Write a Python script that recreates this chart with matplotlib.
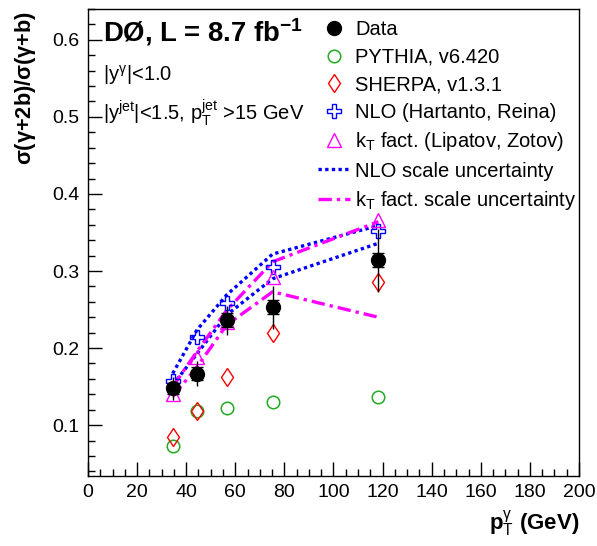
import numpy as np
import matplotlib
matplotlib.use('Agg')
import matplotlib.pyplot as plt
from matplotlib.ticker import MultipleLocator

plt.rcParams['font.family'] = ['Liberation Sans', 'DejaVu Sans']
plt.rcParams['mathtext.fontset'] = 'custom'
plt.rcParams['mathtext.rm'] = 'Liberation Sans'
plt.rcParams['mathtext.it'] = 'Liberation Sans'
plt.rcParams['mathtext.bf'] = 'Liberation Sans:bold'

# photon pT bin centres (GeV)
pt = [34.5, 44.5, 56.5, 75.2, 118.3]

data = [0.148, 0.167, 0.236, 0.253, 0.314]
data_stat = [0.015, 0.016, 0.019, 0.028, 0.041]
data_syst = [0.007, 0.008, 0.009, 0.009, 0.009]

pythia = [0.073, 0.118, 0.122, 0.130, 0.136]
sherpa = [0.085, 0.119, 0.163, 0.220, 0.286]
nlo = [0.157, 0.2145, 0.258, 0.305, 0.352]
kt = [0.141, 0.189, 0.234, 0.292, 0.366]

nlo_up = [0.167, 0.224, 0.269, 0.322, 0.359]
nlo_lo = [0.152, 0.193, 0.243, 0.290, 0.336]
kt_up = [0.150, 0.196, 0.249, 0.312, 0.364]
kt_lo = [0.137, 0.176, 0.230, 0.273, 0.240]

fig = plt.figure(figsize=(5.97, 5.46), dpi=100)
ax = fig.add_axes([0.1474, 0.1282, 0.8224, 0.8553])

h_nlos, = ax.plot(pt, nlo_up, color='blue', ls=(0, (1, 1)), lw=2.4, label='NLO scale uncertainty')
ax.plot(pt, nlo_lo, color='blue', ls=(0, (1, 1)), lw=2.4)
h_kts, = ax.plot(pt, kt_up, color='magenta', ls=(0, (4, 1.5, 1, 1.5)), lw=2.4, label=r'k$_{\rm T}$ fact. scale uncertainty')
ax.plot(pt, kt_lo, color='magenta', ls=(0, (4, 1.5, 1, 1.5)), lw=2.4)

h_py, = ax.plot(pt, pythia, 'o', ms=9, mfc='none', mec='#22aa22', mew=1.1, ls='none', label='PYTHIA, v6.420')
h_sh, = ax.plot(pt, sherpa, 'd', ms=9.5, mfc='none', mec='red', mew=1.0, ls='none', label='SHERPA, v1.3.1')
h_nlo, = ax.plot(pt, nlo, 'P', ms=10, mfc='none', mec='blue', mew=1.0, ls='none', label='NLO (Hartanto, Reina)')
h_kt, = ax.plot(pt, kt, '^', ms=10, mfc='none', mec='magenta', mew=1.0, ls='none', label=r'k$_{\rm T}$ fact. (Lipatov, Zotov)')

ax.errorbar(pt, data, yerr=data_stat, fmt='none', ecolor='black', elinewidth=1.0)
ax.errorbar(pt, data, yerr=data_syst, fmt='none', ecolor='black', elinewidth=1.0, capsize=4)
h_data, = ax.plot(pt, data, 'o', ms=10, color='black', ls='none', label='Data')

ax.set_xlim(0, 200)
ax.set_ylim(0.034, 0.64)
ax.xaxis.set_major_locator(MultipleLocator(20))
ax.xaxis.set_minor_locator(MultipleLocator(5))
ax.yaxis.set_major_locator(MultipleLocator(0.1))
ax.yaxis.set_minor_locator(MultipleLocator(0.02))
ax.tick_params(which='both', direction='in', top=False, right=False, labelsize=14, width=1)
ax.tick_params(which='major', length=10)
ax.tick_params(which='minor', length=5)
ax.tick_params(axis='x', pad=6)
ax.tick_params(axis='y', pad=6)
for sp in ax.spines.values():
    sp.set_linewidth(1.0)

ax.set_ylabel(r'$\mathbf{\sigma(\gamma}$+2b)/$\mathbf{\sigma(\gamma}$+b)', fontsize=15.7, fontweight='bold')
ax.yaxis.set_label_coords(-0.127, 0.996)
ax.yaxis.label.set_ha('right')
ax.yaxis.label.set_va('center')
ax.set_xlabel(r'p$_{\rm T}^{\gamma}$ (GeV)', fontsize=16, fontweight='bold')
ax.xaxis.set_label_coords(1.0, -0.07)
ax.xaxis.label.set_ha('right')

ax.text(0.03, 0.951, r'DØ, L = 8.7 fb$^{\mathbf{-1}}$', transform=ax.transAxes, fontsize=19.8,
        fontweight='bold', va='center')
ax.text(0.03, 0.859, r'|y$^{\gamma}$|<1.0', transform=ax.transAxes, fontsize=14.5, va='center')
ax.text(0.03, 0.777, r'|y$^{\rm jet}$|<1.5, p$_{\rm T}^{\rm jet}$ >15 GeV', transform=ax.transAxes,
        fontsize=14.5, va='center')

handles = [h_data, h_py, h_sh, h_nlo, h_kt, h_nlos, h_kts]
leg = ax.legend(handles=handles, loc='upper left', bbox_to_anchor=(0.468, 0.976), frameon=False,
                fontsize=14.5, handlelength=1.6, handletextpad=0.25, labelspacing=0.42,
                borderaxespad=0, borderpad=0)

fig.savefig('out.png', dpi=100)
